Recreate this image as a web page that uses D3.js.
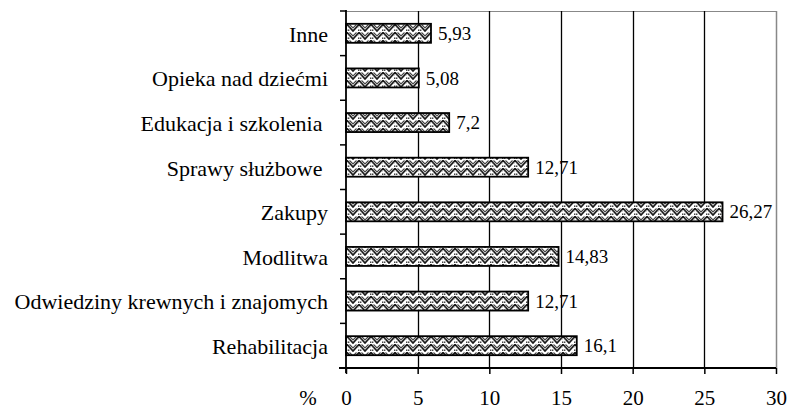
<!DOCTYPE html>
<html>
<head>
<meta charset="utf-8">
<script src="https://cdn.jsdelivr.net/npm/d3@7"></script>
<style>
html,body{margin:0;padding:0;background:#fff;}
svg{display:block;}
svg text{font-family:"Times New Roman","Liberation Serif","DejaVu Serif",serif !important;fill:#000;white-space:pre;}
</style>
</head>
<body>
<svg id="chart" width="789" height="409"></svg>
<script>
const categories = ["Inne","Opieka nad dziećmi","Edukacja i szkolenia ","Sprawy służbowe ","Zakupy","Modlitwa","Odwiedziny krewnych i znajomych","Rehabilitacja"];
const values = [5.93, 5.08, 7.2, 12.71, 26.27, 14.83, 12.71, 16.1];
const valueLabels = ["5,93","5,08","7,2","12,71","26,27","14,83","12,71","16,1"];
const xTicks = [0,5,10,15,20,25,30];
const axisUnit = "%";

const FONT = "'Times New Roman','Liberation Serif','DejaVu Serif',serif";
const svg = d3.select("#chart");
const pLeft = 346, pRight = 776, pTop = 11, pBottom = 368;

const x = d3.scaleLinear().domain([0,30]).range([pLeft,pRight]);
const p = 0.574;
const y = d3.scaleBand().domain(categories).range([pTop,pBottom]).paddingInner(p).paddingOuter(p/2);
const step = y.step();

// pattern (weave-like chevrons)
const defs = svg.append("defs");
const pat = defs.append("pattern").attr("id","weave").attr("patternUnits","userSpaceOnUse")
  .attr("width",12).attr("height",8);
pat.append("rect").attr("width",12).attr("height",8).attr("fill","#fff");
pat.append("path").attr("d","M-1,0.5 L5,7 L11,0.5 L17,7 M-7,7 L-1,0.5").attr("fill","none").attr("stroke","#1a1a1a").attr("stroke-width",1.7);
pat.append("path").attr("d","M1.5,0.5 L5,4 L8.5,0.5").attr("fill","none").attr("stroke","#444").attr("stroke-width",1.1);
pat.append("rect").attr("x",0).attr("y",5.5).attr("width",1.4).attr("height",1.4).attr("fill","#333");
pat.append("rect").attr("x",10).attr("y",5.5).attr("width",1.4).attr("height",1.4).attr("fill","#333");
pat.append("rect").attr("x",9.5).attr("y",2.5).attr("width",1).attr("height",1).attr("fill","#666");
pat.append("rect").attr("x",0.5).attr("y",2.5).attr("width",1).attr("height",1).attr("fill","#666");

// frame top & right (gray)
svg.append("line").attr("x1",pLeft).attr("x2",pRight).attr("y1",pTop+0.5).attr("y2",pTop+0.5).attr("stroke","#888").attr("stroke-width",1);
svg.append("line").attr("x1",pRight+0.5).attr("x2",pRight+0.5).attr("y1",pTop).attr("y2",pBottom).attr("stroke","#888").attr("stroke-width",1.5);

// gridlines
svg.append("g").selectAll("line").data(xTicks.filter(t=>t>0 && t<30)).join("line")
  .attr("x1",d=>Math.round(x(d))+0.5).attr("x2",d=>Math.round(x(d))+0.5)
  .attr("y1",pTop).attr("y2",pBottom).attr("stroke","#000").attr("stroke-width",1.3);

// bars
svg.append("g").selectAll("rect").data(categories).join("rect")
  .attr("x",x(0)).attr("y",d=>y(d))
  .attr("width",(d,i)=>x(values[i])-x(0)).attr("height",y.bandwidth())
  .attr("fill","url(#weave)").attr("stroke","#000").attr("stroke-width",1.8);

// value labels
svg.append("g").selectAll("text").data(categories).join("text")
  .attr("x",(d,i)=>x(values[i])+7).attr("y",d=>y(d)+y.bandwidth()/2)
  .attr("dy","0.35em").attr("font-size",19).attr("font-family",FONT).text((d,i)=>valueLabels[i]);

// left axis
const yAxis = d3.axisLeft(y).tickSize(0).tickPadding(18).tickSizeOuter(0);
const gy = svg.append("g").attr("transform",`translate(${pLeft},0)`).call(yAxis).attr("font-family",FONT);
gy.select(".domain").remove();
gy.selectAll("text").attr("font-size",22).attr("font-family",FONT).attr("dy","0.38em").attr("fill","#000");
svg.append("line").attr("x1",pLeft).attr("x2",pLeft).attr("y1",pTop-1).attr("y2",pBottom+5).attr("stroke","#000").attr("stroke-width",1.8);
// band boundary ticks
const bounds = d3.range(categories.length+1).map(i=>pTop+i*step);
svg.append("g").selectAll("line").data(bounds).join("line")
  .attr("x1",pLeft-6).attr("x2",pLeft).attr("y1",d=>d).attr("y2",d=>d)
  .attr("stroke","#000").attr("stroke-width",1.5);

// bottom axis
const xAxis = d3.axisBottom(x).tickValues(xTicks).tickSize(6).tickPadding(16).tickSizeOuter(0).tickFormat(d3.format("d"));
const gx = svg.append("g").attr("transform",`translate(0,${pBottom})`).call(xAxis).attr("font-family",FONT);
gx.select(".domain").remove();
gx.selectAll("line").attr("stroke","#000").attr("stroke-width",1.5);
gx.selectAll("text").attr("font-size",21).attr("font-family",FONT).attr("fill","#000");
svg.append("line").attr("x1",pLeft-7).attr("x2",pRight).attr("y1",pBottom).attr("y2",pBottom).attr("stroke","#000").attr("stroke-width",1.8);

svg.append("text").attr("x",308).attr("y",405).attr("text-anchor","middle").attr("font-size",21).attr("font-family",FONT).text(axisUnit);
</script>
</body>
</html>
